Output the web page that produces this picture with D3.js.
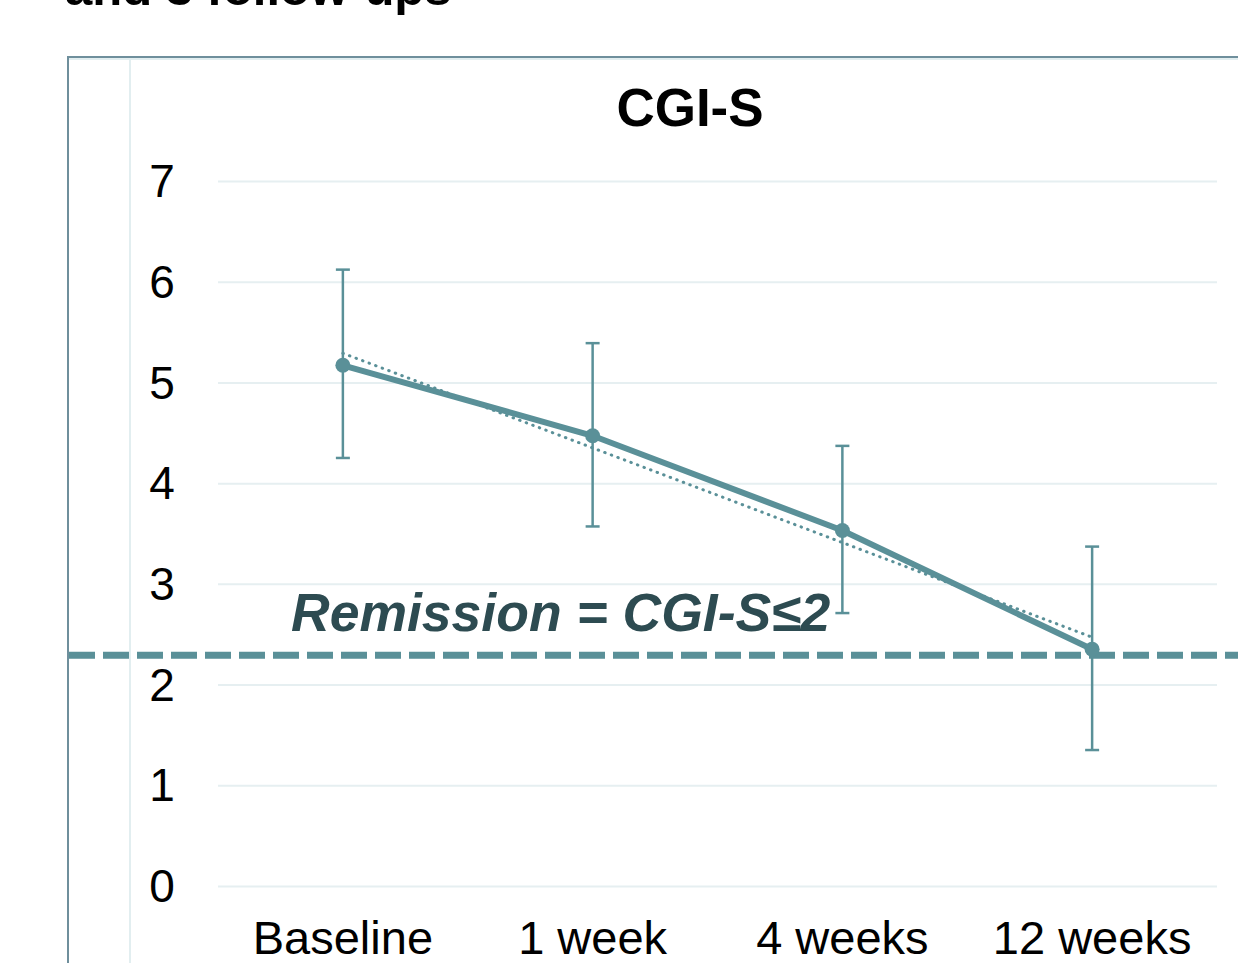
<!DOCTYPE html>
<html>
<head>
<meta charset="utf-8">
<script src="https://cdn.jsdelivr.net/npm/d3@7"></script>
<style>
  html, body { margin: 0; padding: 0; background: #fff; overflow: hidden; }
  svg { display: block; font-family: "Liberation Sans", Arial, sans-serif; }
</style>
</head>
<body>
<script>
const width = 1238;
const height = 963;

// data
const categories = ['Baseline', '1 week', '4 weeks', '12 weeks'];
const means = [5.17, 4.47, 3.53, 2.35];
const upper = [6.12, 5.39, 4.37, 3.37];
const lower = [4.25, 3.57, 2.71, 1.35];
const yTicks = [0, 1, 2, 3, 4, 5, 6, 7];
const remission = 2.29;

const color = '#5a9098';

const x = d3.scaleBand().domain(categories).range([218, 1217]);
const y = d3.scaleLinear().domain([0, 7]).range([886, 181]);
const cx = d => x(d) + x.bandwidth() / 2;

const svg = d3.select('body').append('svg')
  .attr('width', width)
  .attr('height', height);

// cut-off heading above the panel
svg.append('text')
  .attr('x', 65).attr('y', 5)
  .attr('font-size', 49).attr('font-weight', 'bold')
  .attr('fill', '#000')
  .text('and 3 follow-ups');

// panel frame
svg.append('line').attr('x1', 68).attr('x2', width).attr('y1', 57).attr('y2', 57)
  .attr('stroke', '#6f8f9c').attr('stroke-width', 2);
svg.append('line').attr('x1', 69).attr('x2', width).attr('y1', 59).attr('y2', 59)
  .attr('stroke', '#e2eef0').attr('stroke-width', 2);
svg.append('line').attr('x1', 68).attr('x2', 68).attr('y1', 56).attr('y2', height)
  .attr('stroke', '#6f8f9c').attr('stroke-width', 2);
svg.append('line').attr('x1', 130).attr('x2', 130).attr('y1', 59).attr('y2', height)
  .attr('stroke', '#e2eef0').attr('stroke-width', 2);

// title
svg.append('text')
  .attr('x', 690).attr('y', 126)
  .attr('text-anchor', 'middle')
  .attr('font-size', 53).attr('font-weight', 'bold')
  .text('CGI-S');

// gridlines + y labels
const yAxis = svg.append('g')
  .attr('transform', 'translate(218,0)')
  .call(d3.axisLeft(y).tickValues(yTicks).tickFormat(d3.format('d')).tickSize(-(1217 - 218)).tickPadding(0));
yAxis.select('.domain').remove();
yAxis.selectAll('.tick line').attr('stroke', '#e6eff1').attr('stroke-width', 2);
yAxis.selectAll('.tick text')
  .attr('x', -56).attr('text-anchor', 'middle')
  .attr('font-size', 46).attr('fill', '#000')
  .attr('font-family', '"Liberation Sans", Arial, sans-serif')
  .attr('dy', '0.34em');

// x labels
const xAxis = svg.append('g')
  .attr('transform', 'translate(0,886)')
  .call(d3.axisBottom(x).tickSize(0).tickPadding(0));
xAxis.select('.domain').remove();
xAxis.selectAll('.tick text')
  .attr('y', 68).attr('dy', 0)
  .attr('font-size', 47).attr('fill', '#000')
  .attr('font-family', '"Liberation Sans", Arial, sans-serif');

// remission text
svg.append('text')
  .attr('x', 291).attr('y', 631)
  .attr('font-size', 53.5).attr('font-weight', 'bold').attr('font-style', 'italic')
  .attr('fill', '#2d4b51')
  .text('Remission = CGI-S≤2');

// linear trend of the means (dotted)
const idx = d3.range(means.length);
const mx = d3.mean(idx), my = d3.mean(means);
const slope = d3.sum(idx, i => (i - mx) * (means[i] - my)) / d3.sum(idx, i => (i - mx) ** 2);
const trend = i => my + slope * (i - mx);
svg.append('line')
  .attr('x1', cx(categories[0])).attr('y1', y(trend(0)))
  .attr('x2', cx(categories[3])).attr('y2', y(trend(3)))
  .attr('stroke', color).attr('stroke-width', 3)
  .attr('stroke-dasharray', '0.5 6.5').attr('stroke-linecap', 'round');

// error bars
const eb = svg.append('g').attr('stroke', color).attr('stroke-width', 2.5);
categories.forEach((c, i) => {
  eb.append('line').attr('x1', cx(c)).attr('x2', cx(c)).attr('y1', y(upper[i])).attr('y2', y(lower[i]));
  eb.append('line').attr('x1', cx(c) - 7).attr('x2', cx(c) + 7).attr('y1', y(upper[i])).attr('y2', y(upper[i]));
  eb.append('line').attr('x1', cx(c) - 7).attr('x2', cx(c) + 7).attr('y1', y(lower[i])).attr('y2', y(lower[i]));
});

// remission threshold line
svg.append('line')
  .attr('x1', 69).attr('x2', width)
  .attr('y1', y(remission)).attr('y2', y(remission))
  .attr('stroke', color).attr('stroke-width', 7)
  .attr('stroke-dasharray', '26 8');

// mean line + markers
const line = d3.line().x((d, i) => cx(categories[i])).y(d => y(d));
svg.append('path')
  .datum(means)
  .attr('d', line)
  .attr('fill', 'none')
  .attr('stroke', color).attr('stroke-width', 6);
svg.append('g').selectAll('circle')
  .data(means)
  .enter().append('circle')
  .attr('cx', (d, i) => cx(categories[i]))
  .attr('cy', d => y(d))
  .attr('r', 7.5)
  .attr('fill', color);
</script>
</body>
</html>
